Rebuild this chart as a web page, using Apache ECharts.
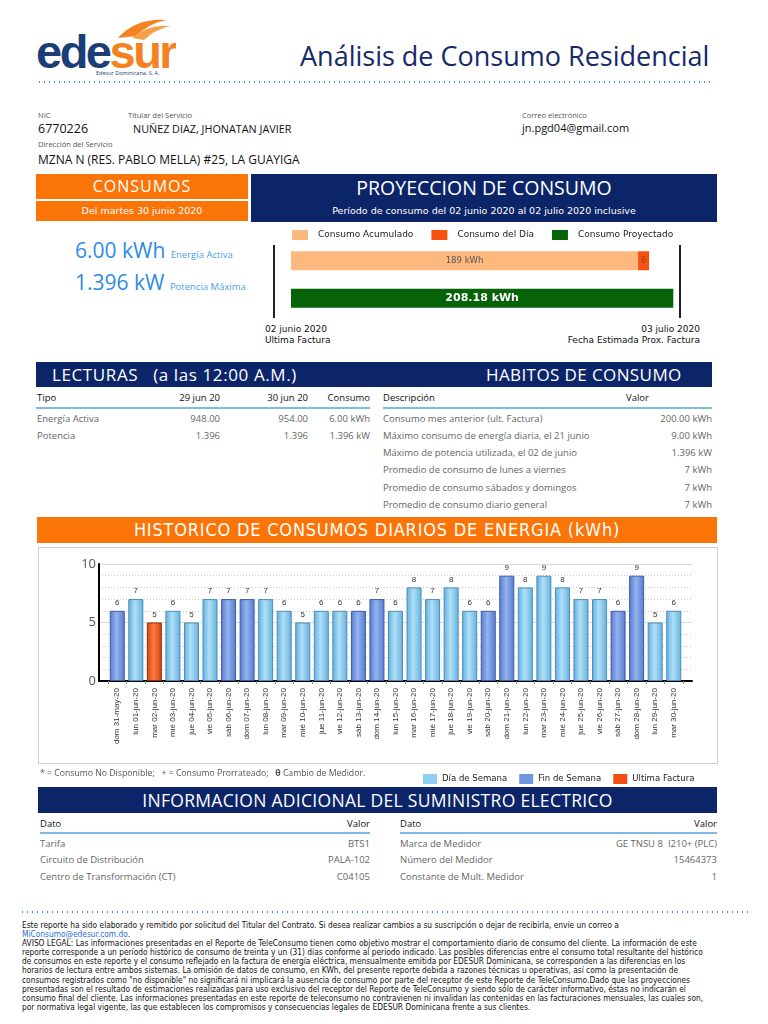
<!DOCTYPE html>
<html><head><meta charset="utf-8">
<script src="https://cdn.jsdelivr.net/npm/echarts@6/dist/echarts.min.js"></script>
<style>
html,body{margin:0;padding:0;background:#fff;}
body{width:768px;height:1024px;position:relative;overflow:hidden;font-family:"Open Sans",sans-serif;}
.a{position:absolute;white-space:nowrap;}
.lab{font-size:7.5px;color:#555;}
.hdr{position:absolute;color:#fff;text-align:center;}
.th{position:absolute;white-space:nowrap;font-size:9.5px;color:#111;}
.td{position:absolute;white-space:nowrap;font-size:9.5px;color:#666;}
.ln{position:absolute;height:2px;background:#7fbbea;}
.dots{position:absolute;height:2px;background-image:radial-gradient(circle,#3a8ee6 0.9px,transparent 1.1px);background-size:5px 2px;}
</style></head><body>

<!-- logo -->
<svg class="a" style="left:36px;top:16px" width="140" height="60" viewBox="0 0 140 60">
  <path d="M82 22 Q100 2 130 4 Q112 8 100 20 Z" fill="#f58220"/>
  <path d="M96 22 Q112 8 134 10 Q118 14 108 24 Z" fill="#f7a04a"/>
  <text x="0" y="52" font-family="Liberation Sans, Arial" font-weight="bold" font-size="47" fill="#1b3d78" letter-spacing="-2.5">ede<tspan fill="#f58220">sur</tspan></text>
  <text x="60" y="59" font-family="Open Sans" font-size="5.5" fill="#1b3d78">Edesur Dominicana, S. A.</text>
</svg>
<div class="a" style="left:300px;top:39px;font-size:27px;color:#16296a;line-height:34px;">Análisis de Consumo Residencial</div>
<div class="dots" style="left:37px;top:81px;width:676px;"></div>

<!-- client info -->
<div class="a lab" style="left:38px;top:110px;">NIC</div>
<div class="a lab" style="left:128px;top:110px;">Titular del Servicio</div>
<div class="a lab" style="left:522px;top:110px;">Correo electrónico</div>
<div class="a" style="left:38px;top:120px;font-size:12.5px;color:#111;">6770226</div>
<div class="a" style="left:133px;top:121px;font-size:10.8px;color:#111;">NUÑEZ DIAZ, JHONATAN JAVIER</div>
<div class="a" style="left:522px;top:120px;font-size:11px;color:#111;">jn.pgd04@gmail.com</div>
<div class="a lab" style="left:38px;top:139px;">Dirección del Servicio</div>
<div class="a" style="left:38px;top:151px;font-size:12px;color:#111;">MZNA N (RES. PABLO MELLA) #25, LA GUAYIGA</div>

<!-- consumos -->
<div class="hdr" style="left:36px;top:174px;width:212px;height:25px;background:#fb7407;font-size:16px;line-height:25px;letter-spacing:1px;">CONSUMOS</div>
<div class="hdr" style="left:36px;top:201px;width:212px;height:20px;background:#fb7407;font-family:'DejaVu Sans';font-size:9.5px;line-height:20px;">Del martes 30 junio 2020</div>
<div class="hdr" style="left:251px;top:174px;width:466px;height:48px;background:#0c2568;"></div>
<div class="hdr" style="left:251px;top:175px;width:466px;font-size:19.5px;line-height:26px;">PROYECCION DE CONSUMO</div>
<div class="hdr" style="left:251px;top:203px;width:466px;font-family:'DejaVu Sans';font-size:9.5px;line-height:16px;">Período de consumo del 02 junio 2020 al 02 julio 2020 inclusive</div>

<div class="a" style="left:75px;top:236px;font-size:21px;color:#2e8be6;line-height:28px;">6.00 kWh <span style="font-size:9.5px;color:#4aa0ea;">Energía Activa</span></div>
<div class="a" style="left:75px;top:268px;font-size:21px;color:#2e8be6;line-height:28px;">1.396 kW <span style="font-size:9.5px;color:#4aa0ea;">Potencia Máxima</span></div>

<div class="a" style="left:273px;top:245px;width:2px;height:73px;background:#222;"></div>
<div class="a" style="left:679px;top:245px;width:2px;height:73px;background:#222;"></div>
<div class="a" style="left:265px;top:324px;font-family:'DejaVu Sans';font-size:9px;color:#111;line-height:11px;">02 junio 2020<br>Ultima Factura</div>
<div class="a" style="right:68px;top:324px;font-family:'DejaVu Sans';font-size:9px;color:#111;line-height:11px;text-align:right;">03 julio 2020<br>Fecha Estimada Prox. Factura</div>
<div id="proy" class="a" style="left:260px;top:222px;width:457px;height:100px;"></div>

<!-- lecturas / habitos -->
<div class="hdr" style="left:36px;top:362px;width:676px;height:25px;background:#0c2568;"></div>
<div class="a" style="left:52px;top:362px;font-size:17px;line-height:25px;color:#fff;letter-spacing:0.6px;">LECTURAS&nbsp;&nbsp; (a las 12:00 A.M.)</div>
<div class="a" style="left:486px;top:362px;font-size:17px;line-height:25px;color:#fff;letter-spacing:0.4px;">HABITOS DE CONSUMO</div>

<div class="th" style="left:37px;top:391px;">Tipo</div>
<div class="th" style="right:548px;top:391px;">29 jun 20</div>
<div class="th" style="right:460px;top:391px;">30 jun 20</div>
<div class="th" style="right:398px;top:391px;">Consumo</div>
<div class="ln" style="left:36px;top:407px;width:334px;"></div>
<div class="td" style="left:37px;top:412px;">Energía Activa</div>
<div class="td" style="right:548px;top:412px;">948.00</div>
<div class="td" style="right:460px;top:412px;">954.00</div>
<div class="td" style="right:398px;top:412px;">6.00 kWh</div>
<div class="td" style="left:37px;top:429px;">Potencia</div>
<div class="td" style="right:548px;top:429px;">1.396</div>
<div class="td" style="right:460px;top:429px;">1.396</div>
<div class="td" style="right:398px;top:429px;">1.396 kW</div>

<div class="th" style="left:383px;top:391px;">Descripción</div>
<div class="th" style="left:626px;top:391px;">Valor</div>
<div class="ln" style="left:383px;top:407px;width:329px;"></div>
<div class="td" style="left:383px;top:412px;">Consumo mes anterior (ult. Factura)</div>
<div class="td" style="right:56px;top:412px;">200.00 kWh</div>
<div class="td" style="left:383px;top:429px;">Máximo consumo de energía diaria, el 21 junio</div>
<div class="td" style="right:56px;top:429px;">9.00 kWh</div>
<div class="td" style="left:383px;top:446px;">Máximo de potencia utilizada, el 02 de junio</div>
<div class="td" style="right:56px;top:446px;">1.396 kW</div>
<div class="td" style="left:383px;top:463px;">Promedio de consumo de lunes a viernes</div>
<div class="td" style="right:56px;top:463px;">7 kWh</div>
<div class="td" style="left:383px;top:481px;">Promedio de consumo sábados y domingos</div>
<div class="td" style="right:56px;top:481px;">7 kWh</div>
<div class="td" style="left:383px;top:498px;">Promedio de consumo diario general</div>
<div class="td" style="right:56px;top:498px;">7 kWh</div>

<!-- historico -->
<div class="hdr" style="left:37px;top:517px;width:680px;height:26px;background:#fb7407;font-family:'DejaVu Sans Condensed','DejaVu Sans';font-size:18px;letter-spacing:0.8px;line-height:26px;">HISTORICO DE CONSUMOS DIARIOS DE ENERGIA (kWh)</div>
<div class="a" style="left:38px;top:547px;width:678px;height:215px;border:1px solid #cfcfcf;"></div>
<div id="hist" class="a" style="left:38px;top:547px;width:700px;height:240px;"></div>
<div class="a" style="left:40px;top:767px;font-size:8.7px;color:#555;">* = Consumo No Disponible;&nbsp;&nbsp; + = Consumo Prorrateado;&nbsp;&nbsp; <b>θ</b> Cambio de Medidor.</div>

<!-- informacion adicional -->
<div class="hdr" style="left:38px;top:787px;width:679px;height:26px;background:#0c2568;font-size:17.5px;line-height:26px;letter-spacing:0.3px;">INFORMACION ADICIONAL DEL SUMINISTRO ELECTRICO</div>
<div class="th" style="left:40px;top:817px;">Dato</div>
<div class="th" style="right:398px;top:817px;">Valor</div>
<div class="th" style="left:400px;top:817px;">Dato</div>
<div class="th" style="right:51px;top:817px;">Valor</div>
<div class="ln" style="left:40px;top:832px;width:330px;"></div>
<div class="ln" style="left:400px;top:832px;width:317px;"></div>
<div class="td" style="left:40px;top:837px;">Tarifa</div>
<div class="td" style="right:398px;top:837px;">BTS1</div>
<div class="td" style="left:40px;top:853px;">Circuito de Distribución</div>
<div class="td" style="right:398px;top:853px;">PALA-102</div>
<div class="td" style="left:40px;top:870px;">Centro de Transformación (CT)</div>
<div class="td" style="right:398px;top:870px;">C04105</div>
<div class="td" style="left:400px;top:837px;">Marca de Medidor</div>
<div class="td" style="right:51px;top:837px;">GE TNSU 8&nbsp; I210+ (PLC)</div>
<div class="td" style="left:400px;top:853px;">Número del Medidor</div>
<div class="td" style="right:51px;top:853px;">15464373</div>
<div class="td" style="left:400px;top:870px;">Constante de Mult. Medidor</div>
<div class="td" style="right:51px;top:870px;">1</div>

<!-- footer -->
<div class="dots" style="left:20px;top:911px;width:730px;"></div>
<div class="a" style="left:22px;top:921px;font-family:'DejaVu Sans Condensed','DejaVu Sans';font-size:8.3px;line-height:9.1px;color:#111;">Este reporte ha sido elaborado y remitido por solicitud del Titular del Contrato. Si desea realizar cambios a su suscripción o dejar de recibirla, envíe un correo a<br><span style="color:#2a6fd6">MiConsumo@edesur.com.do</span>.<br>AVISO LEGAL: Las informaciones presentadas en el Reporte de TeleConsumo tienen como objetivo mostrar el comportamiento diario de consumo del cliente. La información de este<br>reporte corresponde a un período histórico de consumo de treinta y un (31) días conforme al periodo indicado. Las posibles diferencias entre el consumo total resultante del histórico<br>de consumos en este reporte y el consumo reflejado en la factura de energía eléctrica, mensualmente emitida por EDESUR Dominicana, se corresponden a las diferencias en los<br>horarios de lectura entre ambos sistemas. La omisión de datos de consumo, en KWh, del presente reporte debida a razones técnicas u operativas, así como la presentación de<br>consumos registrados como "no disponible" no significará ni implicará la ausencia de consumo por parte del receptor de este Reporte de TeleConsumo.Dado que las proyecciones<br>presentadas son el resultado de estimaciones realizadas para uso exclusivo del receptor del Reporte de TeleConsumo y siendo sólo de carácter informativo, éstas no indicarán el<br>consumo final del cliente. Las informaciones presentadas en este reporte de teleconsumo no contravienen ni invalidan las contenidas en las facturaciones mensuales, las cuales son,<br>por normativa legal vigente, las que establecen los compromisos y consecuencias legales de EDESUR Dominicana frente a sus clientes.</div>

<script>
// ---- data ----
const dias = ['dom 31-may-20','lun 01-jun-20','mar 02-jun-20','mié 03-jun-20','jue 04-jun-20','vie 05-jun-20','sáb 06-jun-20','dom 07-jun-20','lun 08-jun-20','mar 09-jun-20','mié 10-jun-20','jue 11-jun-20','vie 12-jun-20','sáb 13-jun-20','dom 14-jun-20','lun 15-jun-20','mar 16-jun-20','mié 17-jun-20','jue 18-jun-20','vie 19-jun-20','sáb 20-jun-20','dom 21-jun-20','lun 22-jun-20','mar 23-jun-20','mié 24-jun-20','jue 25-jun-20','vie 26-jun-20','sáb 27-jun-20','dom 28-jun-20','lun 29-jun-20','mar 30-jun-20'];
const consumo = [6,7,5,6,5,7,7,7,7,6,5,6,6,6,7,6,8,7,8,6,6,9,8,9,8,7,7,6,9,5,6];
const tipoDia = ['F','S','U','S','S','S','F','F','S','S','S','S','S','F','F','S','S','S','S','S','F','F','S','S','S','S','S','F','F','S','S'];
const histSeries = ['Día de Semana','Fin de Semana','Ultima Factura'];
const yTicks = [0,5,10];

const proyNombres = ['Consumo Acumulado','Consumo del Día','Consumo Proyectado'];
const consumoAcumulado = 189;
const consumoDelDia = 6;
const consumoProyectado = 208.18;

// ---- historico chart ----
function grad(a,b,c){return {type:'linear',x:0,y:0,x2:1,y2:0,colorStops:[{offset:0,color:a},{offset:0.45,color:b},{offset:1,color:c}]};}
const styles = {
  S:{color:grad('#63addb','#aee0f8','#66afdb'),borderColor:'#4a8cbd',legend:'#8fd0f2'},
  F:{color:grad('#5679cc','#94b3f0','#5679cc'),borderColor:'#3b5ca6',legend:'#6e97e4'},
  U:{color:grad('#d1410f','#ff7b45','#d1410f'),borderColor:'#9a2e08',legend:'#f04e12'}
};
const keys = ['S','F','U'];
const hist = echarts.init(document.getElementById('hist'),null,{renderer:'canvas'});
hist.setOption({
  animation:false,
  grid:[
    {left:70,top:17,width:575,height:117},
    {left:61,top:17,width:593,height:117}
  ],
  legend:{
    left:380,top:222,itemWidth:14,itemHeight:10,itemGap:12,icon:'rect',orient:'horizontal',width:320,
    textStyle:{fontFamily:'DejaVu Sans Condensed',fontSize:9.5,color:'#222'},
    data:histSeries.map((n,i)=>({name:n,itemStyle:{color:styles[keys[i]].legend,borderWidth:0}}))
  },
  xAxis:[
    {type:'category',gridIndex:0,data:dias,axisLine:{show:false},
     axisTick:{show:true,length:3,lineStyle:{color:'#888'}},
     axisLabel:{rotate:90,fontSize:8,fontFamily:'Liberation Sans',color:'#333',margin:7,interval:0}},
    {type:'value',gridIndex:1,min:0,max:1,axisLine:{show:true,onZero:false,lineStyle:{color:'#000',width:2}},
     axisTick:{show:false},axisLabel:{show:false},splitLine:{show:false}}
  ],
  yAxis:[
    {type:'value',gridIndex:0,min:0,max:10,show:false},
    {type:'value',gridIndex:1,min:0,max:10,interval:5,
     axisLine:{show:true,lineStyle:{color:'#000',width:2}},axisTick:{show:false},
     axisLabel:{fontSize:13,color:'#555',margin:3,fontFamily:'Open Sans',customValues:yTicks},
     splitLine:{show:true,lineStyle:{color:'#d8d8d8',width:1}},
     minorTick:{show:false,splitNumber:5},
     minorSplitLine:{show:true,lineStyle:{color:'#c8c8c8',type:[1,2],width:1}}}
  ],
  series: keys.map((k,i)=>({
    name:histSeries[i],type:'bar',xAxisIndex:0,yAxisIndex:0,stack:'d',barWidth:15,
    itemStyle:{color:styles[k].color,borderColor:styles[k].borderColor,borderWidth:1},
    label:{show:true,position:'top',distance:4,fontSize:8,color:'#333',fontFamily:'Liberation Sans'},
    data:consumo.map((v,j)=>tipoDia[j]===k?v:null)
  }))
});

// ---- proyeccion chart ----
const proy = echarts.init(document.getElementById('proy'));
const proyColors = ['#fdb97d','#f5520f','#076307'];
proy.setOption({
  animation:false,
  grid:{left:31,top:20,width:404,height:75},
  legend:{left:27,top:3,itemWidth:16,itemHeight:10,itemGap:18,icon:'rect',
    textStyle:{fontFamily:'DejaVu Sans',fontSize:9,color:'#222',padding:[0,0,0,5]},data:proyNombres},
  xAxis:{type:'value',min:0,max:220,show:false},
  yAxis:{type:'category',data:['a','p'],inverse:true,show:false},
  series:[
    {name:proyNombres[0],type:'bar',stack:'p',barWidth:19,itemStyle:{color:proyColors[0]},
     label:{show:true,position:'inside',formatter:'{c} kWh',fontFamily:'DejaVu Sans',fontSize:8.5,color:'#555'},
     data:[consumoAcumulado,null]},
    {name:proyNombres[1],type:'bar',stack:'p',barWidth:19,itemStyle:{color:proyColors[1]},
     label:{show:true,position:'inside',fontFamily:'DejaVu Sans',fontSize:8,color:'#a83a10'},
     data:[consumoDelDia,null]},
    {name:proyNombres[2],type:'bar',stack:'p',barWidth:19,itemStyle:{color:proyColors[2]},
     label:{show:true,position:'inside',formatter:'{c} kWh',fontFamily:'DejaVu Sans',fontWeight:'bold',fontSize:11,color:'#fff'},
     data:[null,consumoProyectado]}
  ]
});
</script>
</body></html>
